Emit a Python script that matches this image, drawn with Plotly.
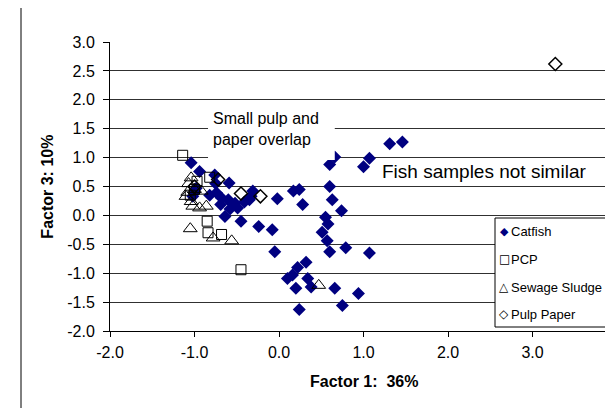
import plotly.graph_objects as go

# ---- data (Factor 1, Factor 3 scores) ----
catfish_x = [1.31, 1.46, 1.07, 1.00, 0.60, 0.66, 0.60, 0.63, 0.74, 0.55, 0.58, 0.51, 0.57, 0.60,
             0.79, 1.07, 0.32, 0.22, 0.16, 0.10, 0.34, 0.38, 0.20, 0.66, 0.94, 0.75, 0.24, 0.17,
             0.24, 0.28, -0.02, -0.05, -0.24, -0.08, -0.31, -0.35, -0.41, -0.45,
             -1.04, -0.94, -0.76, -0.59, -0.74, -0.68, -0.60, -0.69, -0.52, -0.49, -0.58, -0.64,
             -0.33, -1.00, -1.02, -0.82, -0.75, -0.98]
catfish_y = [1.24, 1.27, 0.99, 0.84, 0.88, 1.01, 0.50, 0.27, 0.08, -0.03, -0.15, -0.29, -0.44, -0.63,
             -0.56, -0.65, -0.81, -0.90, -1.03, -1.09, -1.09, -1.24, -1.26, -1.26, -1.35, -1.56, -1.63, 0.42,
             0.45, 0.19, 0.29, -0.63, -0.19, -0.25, 0.42, 0.27, 0.23, -0.10,
             0.91, 0.76, 0.70, 0.56, 0.39, 0.30, 0.27, 0.19, 0.21, 0.13, 0.11, -0.02,
             0.33, 0.40, 0.33, 0.35, 0.55, 0.47]

pcp_x = [-1.14, -0.97, -0.82, -0.85, -0.84, -0.68, -0.45, -1.00, -1.05]
pcp_y = [1.04, 0.59, 0.66, -0.10, -0.30, -0.33, -0.94, 0.45, 0.35]

sludge_x = [-1.04, -0.92, -1.10, -1.04, -1.02, -0.86, -0.94, -1.05, -0.78, -0.56, 0.47, -1.07, -1.00, -1.08]
sludge_y = [0.65, 0.42, 0.33, 0.24, 0.16, 0.16, 0.13, -0.23, -0.39, -0.44, -1.21, 0.55, 0.45, 0.40]

pulp_x = [3.27, -0.72, -0.45, -0.22, -1.00]
pulp_y = [2.62, 0.62, 0.38, 0.33, 0.50]

series_names = ["Catfish", "PCP", "Sewage Sludge", "Pulp Paper"]
legend_glyphs = ["◆", "□", "△", "◇"]
x_ticks = [-2, -1, 0, 1, 2, 3, 4]
x_ticktext = ["-2.0", "-1.0", "0.0", "1.0", "2.0", "3.0", "4.0"]
y_ticks = [-2.0, -1.5, -1.0, -0.5, 0.0, 0.5, 1.0, 1.5, 2.0, 2.5, 3.0]
y_ticktext = ["-2.0", "-1.5", "-1.0", "-0.5", "0.0", "0.5", "1.0", "1.5", "2.0", "2.5", "3.0"]

FONT = "Arial, Liberation Sans, sans-serif"
NAVY = "#000080"

fig = go.Figure()
fig.add_trace(go.Scatter(x=catfish_x, y=catfish_y, mode="markers", name=series_names[0],
                         marker=dict(symbol="diamond", size=10, color=NAVY, line=dict(width=0))))
fig.add_trace(go.Scatter(x=pcp_x, y=pcp_y, mode="markers", name=series_names[1],
                         marker=dict(symbol="square-open", size=10, color="black",
                                     line=dict(width=1, color="black"))))
fig.add_trace(go.Scatter(x=sludge_x, y=sludge_y, mode="markers", name=series_names[2],
                         marker=dict(symbol="triangle-up-open", size=12, color="black",
                                     line=dict(width=1, color="black"))))
fig.add_trace(go.Scatter(x=pulp_x, y=pulp_y, mode="markers", name=series_names[3],
                         marker=dict(symbol="diamond-open", size=10, color="black",
                                     line=dict(width=1.5, color="black"))))

fig.update_layout(
    width=613, height=408,
    margin=dict(l=102, r=4, t=34, b=85, autoexpand=False),
    paper_bgcolor="white", plot_bgcolor="white",
    font=dict(family=FONT, size=16, color="black"),
    showlegend=False,
    xaxis=dict(range=[-2, 4], tickvals=x_ticks, ticktext=x_ticktext, showgrid=False,
               showline=True, linecolor="black", linewidth=1, ticks="outside",
               ticklen=5, tickcolor="black", zeroline=False, ticklabelstandoff=2),
    yaxis=dict(range=[-2, 3], tickvals=y_ticks, ticktext=y_ticktext, showgrid=True,
               gridcolor="#303030", gridwidth=1, showline=True, linecolor="black",
               linewidth=1, mirror=True, ticks="outside", ticklen=6, tickcolor="black",
               zeroline=False, ticklabelstandoff=5),
)

# white text-box background (covers gridlines like the original callout)
fig.add_shape(type="rect", xref="x", yref="y", x0=-0.84, x1=0.66, y0=0.96, y1=1.72,
              fillcolor="white", line=dict(width=0), layer="above")

fig.add_annotation(x=-0.80, y=1.50, xref="x", yref="y", text="Small pulp and<br>paper overlap",
                   showarrow=False, xanchor="left", yanchor="middle", align="left",
                   font=dict(size=16, family=FONT))
fig.add_annotation(x=1.2, y=0.76, xref="x", yref="y", text="Fish samples not similar",
                   showarrow=False, xanchor="left", yanchor="middle",
                   font=dict(size=19, family=FONT))

# axis titles
fig.add_annotation(x=0.5, y=-0.175, xref="paper", yref="paper", text="<b>Factor 1:  36%</b>",
                   showarrow=False, xanchor="center", yanchor="middle", font=dict(size=16))
fig.add_annotation(x=-0.124, y=0.5, xref="paper", yref="paper", text="<b>Factor 3: 10%</b>",
                   showarrow=False, textangle=-90, xanchor="center", yanchor="middle",
                   font=dict(size=16))

# custom Excel-style legend
def px_x(p):
    return (p - 102) / 507.0

def px_y(p):
    return (323 - p) / 289.0

fig.add_shape(type="rect", xref="paper", yref="paper", x0=px_x(487), x1=px_x(598),
              y0=px_y(319), y1=px_y(210), fillcolor="white", line=dict(color="black", width=1),
              layer="above")
legend_rows = [223, 251, 279, 306]
glyph_colors = [NAVY, "black", "black", "black"]
glyph_sizes = [11, 12, 12, 12]
for name, glyph, col, gs, ry in zip(series_names, legend_glyphs, glyph_colors, glyph_sizes, legend_rows):
    fig.add_annotation(x=px_x(496), y=px_y(ry), xref="paper", yref="paper", text=glyph,
                       showarrow=False, xanchor="center", yanchor="middle",
                       font=dict(size=gs, color=col, family="DejaVu Sans"))
    fig.add_annotation(x=px_x(501), y=px_y(ry), xref="paper", yref="paper", text=name,
                       showarrow=False, xanchor="left", yanchor="middle",
                       font=dict(size=13, family=FONT))

# outer chart-area border (left edge visible)
fig.add_shape(type="line", xref="paper", yref="paper", x0=px_x(13), x1=px_x(13), y0=-0.3, y1=1.2,
              line=dict(color="black", width=1))

fig.write_html("out.html")
